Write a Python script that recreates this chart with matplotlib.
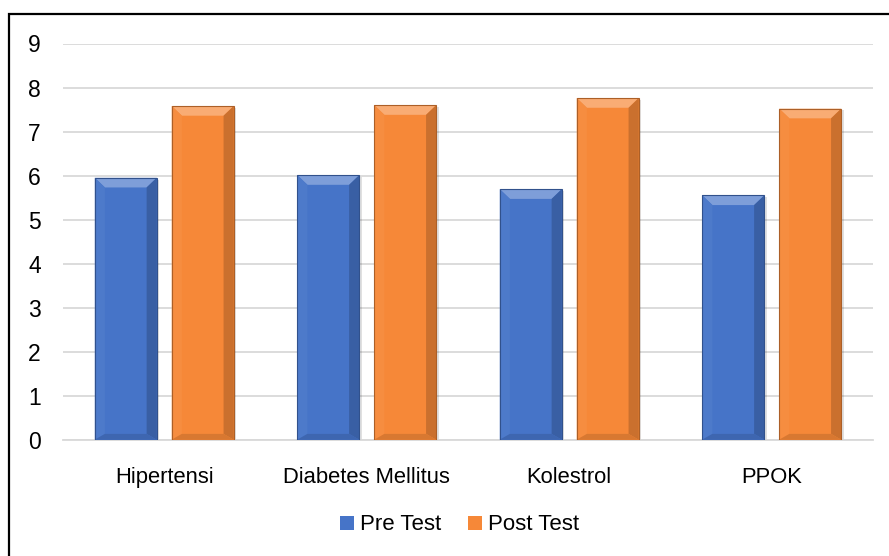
import matplotlib.pyplot as plt
import numpy as np
from matplotlib.patches import Polygon, Rectangle

plt.rcParams['font.family'] = ['Liberation Sans', 'DejaVu Sans']

categories = ["Hipertensi", "Diabetes Mellitus", "Kolestrol", "PPOK"]
pre_test = [5.95, 6.01, 5.69, 5.55]
post_test = [7.58, 7.60, 7.76, 7.52]
series_names = ["Pre Test", "Post Test"]

BLUE = '#4674C8'
ORANGE = '#F68838'


def shade(color, f):
    c = np.array(plt.matplotlib.colors.to_rgb(color))
    if f > 0:
        c = c + (1 - c) * f
    else:
        c = c * (1 + f)
    return tuple(np.clip(c, 0, 1))


def bevel(ax, bar, color, bx, by):
    x0, y0 = bar.get_x(), bar.get_y()
    w, h = bar.get_width(), bar.get_height()
    x1, y1 = x0 + w, y0 + h
    # top, left, right, bottom facets
    faces = [
        ([(x0, y1), (x1, y1), (x1 - bx, y1 - by), (x0 + bx, y1 - by)], 0.3),
        ([(x0, y0), (x0, y1), (x0 + bx, y1 - by), (x0 + bx, y0 + by * 0.6)], 0.04),
        ([(x1, y0), (x1, y1), (x1 - bx, y1 - by), (x1 - bx, y0 + by * 0.6)], -0.18),
        ([(x0, y0), (x1, y0), (x1 - bx, y0 + by * 0.6), (x0 + bx, y0 + by * 0.6)], -0.12),
    ]
    for pts, f in faces:
        ax.add_patch(Polygon(pts, closed=True, facecolor=shade(color, f),
                             edgecolor='none', zorder=3))
    ax.add_patch(Rectangle((x0, y0), w, h, facecolor='none',
                           edgecolor=shade(color, -0.3), linewidth=0.8, zorder=4))
    # soft shadow
    ax.add_patch(Rectangle((x0 + 0.012, y0), w, h - 0.04, facecolor='#000000',
                           alpha=0.12, edgecolor='none', zorder=2.5))


fig = plt.figure(figsize=(8.89, 5.56), dpi=100)
ax = fig.add_axes([63 / 889, 116.3 / 556, 810 / 889, 396.2 / 556])

x = np.arange(len(categories))
width = 0.306
off = 0.19
bars_pre = ax.bar(x - off, pre_test, width, color=BLUE, zorder=3, label=series_names[0])
bars_post = ax.bar(x + off, post_test, width, color=ORANGE, zorder=3, label=series_names[1])

for b in bars_pre:
    bevel(ax, b, BLUE, 0.05, 0.22)
for b in bars_post:
    bevel(ax, b, ORANGE, 0.05, 0.22)

ax.set_xlim(-0.5, len(categories) - 0.5)
ax.set_ylim(0, 9)
ax.set_yticks(range(0, 10))
ax.yaxis.grid(True, color='#d9d9d9', linewidth=1.3, zorder=0)
ax.set_axisbelow(True)
for s in ['top', 'right', 'left']:
    ax.spines[s].set_visible(False)
ax.spines['bottom'].set_color('#d9d9d9')
ax.spines['bottom'].set_linewidth(1.3)
ax.tick_params(axis='y', length=0, pad=16, labelsize=16.5)
ax.tick_params(axis='x', length=0, pad=20, labelsize=15.8)
ax.set_xticks(x)
ax.set_xticklabels(categories)

leg = fig.legend(handles=[bars_pre, bars_post], labels=series_names,
                 loc='center', bbox_to_anchor=(460 / 889, 1 - 525 / 556), ncol=2,
                 frameon=False, fontsize=16, handlelength=0.6, handleheight=0.6,
                 handletextpad=0.3, columnspacing=1.2)

# outer border
fig.patches.append(Rectangle((9 / 889, -0.05), 1.2, 1 - 14 / 556 + 0.05,
                             transform=fig.transFigure, fill=False,
                             edgecolor='black', linewidth=1.6))

fig.savefig('out.png', dpi=100)
